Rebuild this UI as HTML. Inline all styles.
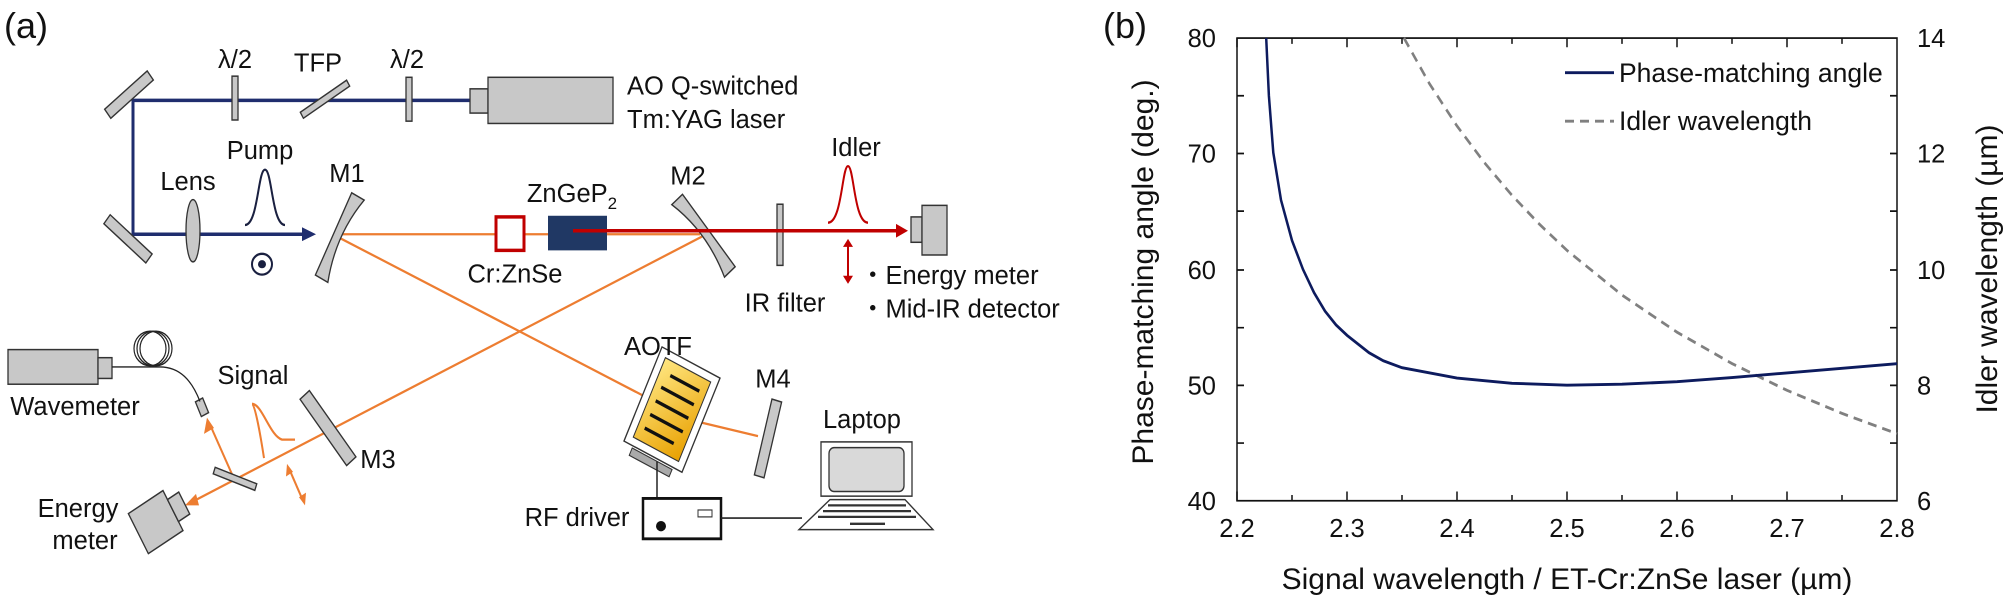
<!DOCTYPE html>
<html><head><meta charset="utf-8"><style>
html,body{margin:0;padding:0;background:#fff;}
svg{display:block;font-family:"Liberation Sans",Arial,sans-serif;}
</style></head><body>
<svg width="2007" height="600" viewBox="0 0 2007 600" xmlns="http://www.w3.org/2000/svg">
<defs>
<linearGradient id="yg" x1="0" y1="0" x2="1" y2="1"><stop offset="0" stop-color="#ffe680"/><stop offset="1" stop-color="#e8a000"/></linearGradient>
</defs>
<rect width="2007" height="600" fill="#fff"/>
<g transform="scale(1,1.1538)">
<!-- ===== Panel (a) graphics ===== -->
<g stroke="#1f2d6e" stroke-width="3" fill="none">
<polyline points="470,87 133,87 133,203 306,203"/>
</g>
<polygon points="302,197 316,203 302,209" fill="#1f2d6e"/>
<g fill="#c8c8c8" stroke="#333" stroke-width="1.3">
<rect x="-27" y="-5" width="54" height="10" transform="translate(129,82) rotate(-38)"/>
<rect x="-27" y="-5" width="54" height="10" transform="translate(128,207) rotate(39)"/>
<rect x="-3" y="-19" width="6" height="38" transform="translate(235,85)"/>
<rect x="-27" y="-3" width="54" height="6" transform="translate(325,86) rotate(-31)"/>
<rect x="-3" y="-19" width="6" height="38" transform="translate(409,86)"/>
<rect x="470" y="77" width="18" height="21"/>
<rect x="488" y="67" width="125" height="40"/>
<ellipse cx="193" cy="200" rx="7" ry="27"/>
</g>
<path d="M245,195 C258,195 258,147 265,147 C272,147 272,195 285,195" stroke="#1a2040" stroke-width="2" fill="none"/>
<ellipse cx="262" cy="229" rx="10" ry="9" fill="none" stroke="#1a2040" stroke-width="2"/>
<ellipse cx="262" cy="229" rx="4" ry="3.5" fill="#1a2040"/>
<g stroke="#ED7D31" stroke-width="2" fill="none">
<line x1="337" y1="203" x2="496" y2="203"/>
<line x1="524" y1="203" x2="548" y2="203"/>
<line x1="607" y1="203" x2="700" y2="203"/>
<path d="M337,205 L650,346 Q672,360 700,366 L758,378"/>
<line x1="702" y1="205" x2="192" y2="435"/>
<line x1="233" y1="413" x2="210" y2="368"/>
<line x1="289" y1="406" x2="303" y2="434"/>
<path d="M264,397 C261,380 255,350 252,350 C262,350 270,378 282,381 L295,381"/>
</g>
<g fill="#ED7D31">
<polygon points="185,438 196,428 199,438"/>
<polygon points="207,362 204,376 214,371"/>
<polygon points="287,402 286,413 293,409"/>
<polygon points="305,438 306,427 299,431"/>
</g>
<g fill="#c8c8c8" stroke="#333" stroke-width="1.3">
<path d="M-5,-40 L9,-40 Q-3,0 9,40 L-5,40 Z" transform="translate(338,205) rotate(27)"/>
<path d="M5,-41 L-9,-41 Q3,0 -9,41 L5,41 Z" transform="translate(705,203) rotate(-40)"/>
<rect x="-6" y="-37" width="12" height="74" transform="translate(328,371) rotate(-39)"/>
<rect x="-22" y="-3" width="44" height="6" transform="translate(235,415) rotate(19)"/>
<rect x="-3" y="-26" width="6" height="53" transform="translate(780,203)"/>
<rect x="-5" y="-34" width="10" height="68" transform="translate(768,380) rotate(15)"/>
<g transform="translate(160,450) rotate(-30)"><rect x="-25" y="-20" width="40" height="40"/><rect x="15" y="-11" width="13" height="22"/></g>
<rect x="8" y="303" width="90" height="30"/>
<rect x="98" y="310" width="14" height="18"/>
<rect x="-4" y="-7" width="8" height="14" transform="translate(202,353) rotate(-25)"/>
<rect x="911" y="188" width="11" height="22"/>
<rect x="922" y="178" width="25" height="43"/>
</g>
<g fill="none" stroke="#222" stroke-width="1.2">
<ellipse cx="150" cy="302" rx="16" ry="15"/><ellipse cx="153" cy="302" rx="16" ry="15"/><ellipse cx="156" cy="302" rx="16" ry="15"/>
<path d="M112,318 L160,318 C180,318 192,330 200,348"/>
</g>
<rect x="496" y="188" width="28" height="29" fill="#fff" stroke="#c00000" stroke-width="3"/>
<rect x="548" y="187" width="59" height="30" fill="#203864"/>
<line x1="573" y1="200" x2="898" y2="200" stroke="#c00000" stroke-width="3"/>
<polygon points="896,194 908,200 896,206" fill="#c00000"/>
<path d="M828,193 C842,193 842,144 848,144 C854,144 854,193 868,193" stroke="#c00000" stroke-width="2" fill="none"/>
<line x1="848" y1="213" x2="848" y2="240" stroke="#c00000" stroke-width="2"/>
<polygon points="843,214 848,207 853,214" fill="#c00000"/>
<polygon points="843,239 848,246 853,239" fill="#c00000"/>
<g transform="translate(672,355) rotate(25)">
<rect x="-32" y="-45" width="64" height="90" fill="#fff" stroke="#333" stroke-width="1.3"/>
<rect x="-25" y="-38" width="50" height="76" fill="url(#yg)" stroke="#333" stroke-width="1"/>
<g stroke="#111" stroke-width="3"><line x1="-14" y1="-26" x2="18" y2="-26"/><line x1="-18" y1="-13" x2="18" y2="-13"/><line x1="-18" y1="0" x2="18" y2="0"/><line x1="-18" y1="13" x2="18" y2="13"/><line x1="-18" y1="26" x2="14" y2="26"/></g>
<rect x="-22" y="47" width="44" height="7" fill="#aaa" stroke="#333"/>
</g>
<line x1="657" y1="400" x2="657" y2="432" stroke="#222" stroke-width="1.5"/>
<rect x="643" y="432" width="78" height="35" fill="#fff" stroke="#111" stroke-width="2.5"/>
<ellipse cx="661" cy="456" rx="5" ry="4.5" fill="#111"/>
<rect x="698" y="442" width="14" height="6" fill="#fff" stroke="#333"/>
<line x1="721" y1="449" x2="802" y2="449" stroke="#222" stroke-width="1.5"/>
<rect x="821" y="383" width="91" height="47" fill="#fff" stroke="#333" stroke-width="1.3"/>
<rect x="829" y="388" width="75" height="38" rx="5" fill="#d9d9d9" stroke="#333" stroke-width="1.3"/>
<polygon points="830,433 905,433 933,459 799,459" fill="#fff" stroke="#333" stroke-width="1.3"/>
<g stroke="#333" stroke-width="2"><line x1="828" y1="438" x2="906" y2="438"/><line x1="823" y1="443" x2="911" y2="443"/><line x1="818" y1="448" x2="916" y2="448"/><line x1="850" y1="454" x2="885" y2="454"/></g>
<!-- ===== Panel (b) graphics ===== -->
<g stroke="#111" stroke-width="1.5" fill="none">
<rect x="1237" y="33" width="660" height="401"/>
<path d="M1237,434v-8M1292,434v-5M1347,434v-8M1402,434v-5M1457,434v-8M1512,434v-5M1567,434v-8M1622,434v-5M1677,434v-8M1732,434v-5M1787,434v-8M1842,434v-5
M1237,33v8M1292,33v5M1347,33v8M1402,33v5M1457,33v8M1512,33v5M1567,33v8M1622,33v5M1677,33v8M1732,33v5M1787,33v8M1842,33v5
M1237,83h7M1237,133h7M1237,183h7M1237,234h7M1237,284h7M1237,334h7M1237,384h7
M1897,83h-7M1897,133h-7M1897,183h-7M1897,234h-7M1897,284h-7M1897,334h-7M1897,384h-7"/>
</g>
<polyline fill="none" stroke="#808080" stroke-width="2.5" stroke-dasharray="9,6" points="1404,33 1429.5,72.6 1457,109.2 1484.5,141.1 1512,169.3 1539.5,194.4 1567,217 1622,255.7 1677,287.9 1732,315.1 1787,338.3 1842,358.3 1897,375.9"/>
<polyline fill="none" stroke="#0d1b5e" stroke-width="2.5" points="1266.2,33 1268.9,83.1 1273.3,132.3 1281,173.4 1292,208.4 1303,233.5 1314,253.6 1325,269.6 1336,281.6 1347,290.6 1369,305.7 1383.3,312.7 1402,318.7 1457,327.7 1512,332.2 1567,333.8 1622,333 1677,330.8 1732,327.2 1787,323.2 1842,319.2 1897,315.2"/>
<line x1="1565" y1="63" x2="1614" y2="63" stroke="#0d1b5e" stroke-width="2.5"/>
<line x1="1565" y1="105" x2="1614" y2="105" stroke="#808080" stroke-width="2.5" stroke-dasharray="9,6"/>
</g>
<!-- ===== Text ===== -->
<g fill="#111">
<text x="4" y="38" font-size="36">(a)</text>
<g font-size="25.5">
<text x="235" y="68" text-anchor="middle">λ/2</text>
<text x="318" y="71.5" text-anchor="middle">TFP</text>
<text x="407" y="68" text-anchor="middle">λ/2</text>
<text x="627" y="94.6">AO Q-switched</text>
<text x="627" y="128">Tm:YAG laser</text>
<text x="188" y="190" text-anchor="middle">Lens</text>
<text x="260" y="159" text-anchor="middle">Pump</text>
<text x="347" y="182" text-anchor="middle">M1</text>
<text x="688" y="184.6" text-anchor="middle">M2</text>
<text x="378" y="468" text-anchor="middle">M3</text>
<text x="773" y="387.7" text-anchor="middle">M4</text>
<text x="253" y="384" text-anchor="middle">Signal</text>
<text x="75" y="415" text-anchor="middle">Wavemeter</text>
<text x="78" y="517" text-anchor="middle">Energy</text>
<text x="85" y="549" text-anchor="middle">meter</text>
<text x="572" y="202" text-anchor="middle">ZnGeP<tspan font-size="17" dy="7">2</tspan></text>
<text x="515" y="282.7" text-anchor="middle">Cr:ZnSe</text>
<text x="785" y="311.5" text-anchor="middle">IR filter</text>
<text x="856" y="155.8" text-anchor="middle">Idler</text>
<text x="860" y="283.8">・Energy meter</text>
<text x="860" y="317.3">・Mid-IR detector</text>
<text x="658" y="355" text-anchor="middle">AOTF</text>
<text x="577" y="526" text-anchor="middle">RF driver</text>
<text x="862" y="428" text-anchor="middle">Laptop</text>
</g>
<text x="1103" y="38" font-size="36">(b)</text>
<g font-size="25.5">
<text x="1237" y="537" text-anchor="middle">2.2</text>
<text x="1347" y="537" text-anchor="middle">2.3</text>
<text x="1457" y="537" text-anchor="middle">2.4</text>
<text x="1567" y="537" text-anchor="middle">2.5</text>
<text x="1677" y="537" text-anchor="middle">2.6</text>
<text x="1787" y="537" text-anchor="middle">2.7</text>
<text x="1897" y="537" text-anchor="middle">2.8</text>
<text x="1216" y="47" text-anchor="end">80</text>
<text x="1216" y="162.5" text-anchor="end">70</text>
<text x="1216" y="279" text-anchor="end">60</text>
<text x="1216" y="394.5" text-anchor="end">50</text>
<text x="1216" y="510" text-anchor="end">40</text>
<text x="1917" y="47">14</text>
<text x="1917" y="162.5">12</text>
<text x="1917" y="279">10</text>
<text x="1917" y="394.5">8</text>
<text x="1917" y="510">6</text>
</g>
<text x="1567" y="589" font-size="30" text-anchor="middle">Signal wavelength / ET-Cr:ZnSe laser (µm)</text>
<text transform="translate(1153,272) rotate(-90)" font-size="30" text-anchor="middle">Phase-matching angle (deg.)</text>
<text transform="translate(1997,269) rotate(-90)" font-size="30" text-anchor="middle">Idler wavelength (µm)</text>
<text x="1619" y="82" font-size="26.5">Phase-matching angle</text>
<text x="1619" y="130" font-size="26.5">Idler wavelength</text>
</g>
</svg>
</body></html>
